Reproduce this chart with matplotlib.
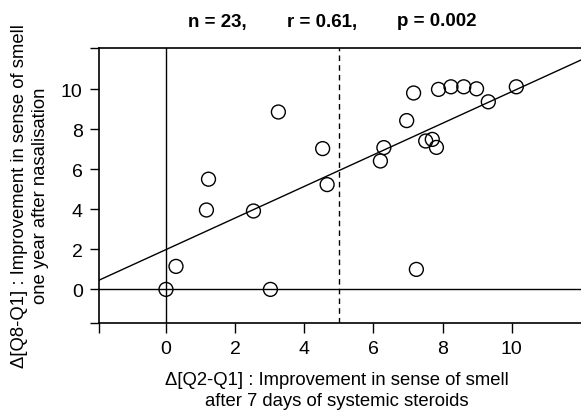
import numpy as np
import matplotlib.pyplot as plt

plt.rcParams['font.family'] = ['Liberation Sans', 'DejaVu Sans']

# values
steroid_gain = [0.0, 0.29, 1.17, 1.23, 2.53, 3.25, 3.02, 4.53, 4.66,
                6.30, 6.20, 7.16, 6.96, 7.51, 7.70, 7.82, 7.24,
                7.88, 8.24, 8.61, 8.98, 9.32, 10.13]
year_gain = [0.0, 1.15, 3.97, 5.51, 3.92, 8.87, 0.0, 7.04, 5.24,
             7.09, 6.42, 9.82, 8.44, 7.42, 7.50, 7.10, 1.00,
             10.0, 10.13, 10.13, 10.03, 9.38, 10.13]
fit_intercept = 1.99
fit_slope = 0.79
cutoff = 5
tick_vals = [0, 2, 4, 6, 8, 10]
stats = ["n = 23,", "r = 0.61,", "p = 0.002"]

xlo, xhi = -1.945, 12.0
ylo, yhi = -1.68, 12.07

fig = plt.figure(figsize=(5.81, 4.14), dpi=100)
ax = fig.add_axes([98.7/581, 90/414, (581-98.7)/581, 275/414])

ax.scatter(steroid_gain, year_gain, s=100, facecolors='none',
           edgecolors='black', linewidths=1.0, zorder=3, clip_on=False)

xs = np.array([xlo, xhi])
ax.plot(xs, fit_intercept + fit_slope*xs, color='black', lw=1.0)
ax.axhline(0, color='black', lw=1.0)
ax.axvline(0, color='black', lw=1.0)
ax.axvline(cutoff, color='black', lw=1.0, ls=(0, (4, 3)))

ax.set_xlim(xlo, xhi)
ax.set_ylim(ylo, yhi)
ax.spines['right'].set_visible(False)
for s in ['left', 'top', 'bottom']:
    ax.spines[s].set_linewidth(1.2)

ax.set_xticks([xlo] + tick_vals)
ax.set_xticklabels([''] + [str(v) for v in tick_vals])
ax.set_yticks([ylo] + tick_vals + [yhi])
ax.set_yticklabels([''] + [str(v) for v in tick_vals] + [''])
ax.tick_params(axis='x', length=7.5, width=1.0, pad=5, labelsize=14)
ax.tick_params(axis='y', length=6.5, width=1.0, pad=5, labelsize=14)

for xp, s in zip([217, 322, 437], stats):
    fig.text(xp/581, 1 - 22/414, s, ha='center', va='center',
             fontsize=13.5, fontweight='bold')

fig.text(337/581, 1 - 391/414,
         "\u0394[Q2-Q1] : Improvement in sense of smell\nafter 7 days of systemic steroids",
         ha='center', va='center', fontsize=13.3, linespacing=1.25)
fig.text(30/581, 1 - 196/414,
         "\u0394[Q8-Q1] : Improvement in sense of smell\none year after nasalisation",
         ha='center', va='center', rotation=90, fontsize=13.3, linespacing=1.25)

fig.savefig('out.png', dpi=100)
